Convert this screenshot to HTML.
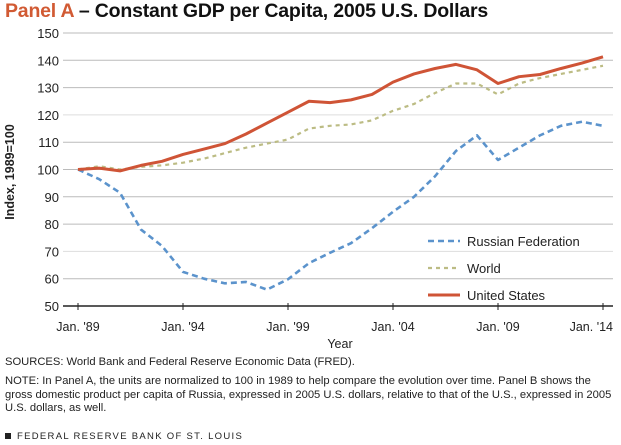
<!DOCTYPE html>
<html><head><meta charset="utf-8"><style>
body{margin:0;width:621px;height:445px;background:#fff;font-family:"Liberation Sans",sans-serif;overflow:hidden;position:relative}
.t{position:absolute;white-space:nowrap;color:#222}
</style></head><body>
<div class="t" style="left:5px;top:0px;font-size:19.5px;font-weight:bold;letter-spacing:-0.2px;color:#111"><span style="color:#d15a33">Panel A</span> – Constant GDP per Capita, 2005 U.S. Dollars</div>
<svg id="c" width="621" height="445" style="position:absolute;left:0;top:0"></svg>
<div class="t" style="left:5px;top:356px;font-size:11.2px">SOURCES: World Bank and Federal Reserve Economic Data (FRED).</div>
<div class="t" style="left:5px;top:375px;font-size:11.2px;line-height:13.5px;white-space:normal;width:615px">NOTE: In Panel A, the units are normalized to 100 in 1989 to help compare the evolution over time. Panel B shows the gross domestic product per capita of Russia, expressed in 2005 U.S. dollars, relative to that of the U.S., expressed in 2005 U.S. dollars, as well.</div>
<div class="t" style="left:5px;top:431px;font-size:9.5px;letter-spacing:1.3px"><span style="display:inline-block;width:6px;height:6px;background:#222;margin-right:6px"></span>FEDERAL RESERVE BANK OF ST. LOUIS</div>
<script>
const years=[1989,1990,1991,1992,1993,1994,1995,1996,1997,1998,1999,2000,2001,2002,2003,2004,2005,2006,2007,2008,2009,2010,2011,2012,2013,2014];
const russia=[100,96.5,91.5,78,72,62.5,60,58.3,58.8,56,59.8,65.7,69.5,73,78.5,84.5,90,97.5,106.8,112.5,103.5,108,112.5,116,117.5,116];
const world=[100,101.2,100,101,101.5,102.5,104,106,108,109.5,111,115,116,116.5,118,121.5,124,128,131.5,131.5,127.5,131.5,133.5,135,136.5,138];
const us=[100,100.5,99.5,101.5,103,105.5,107.5,109.5,113,117,121,125,124.5,125.5,127.5,132,135,137,138.5,136.5,131.5,134,134.8,137,139,141.3];
const yTicks=[50,60,70,80,90,100,110,120,130,140,150];
const xTickYears=[1989,1994,1999,2004,2009,2014];
const xTickLabels=["Jan. '89","Jan. '94","Jan. '99","Jan. '04","Jan. '09","Jan. '14"];
const NS="http://www.w3.org/2000/svg";
const svg=document.getElementById('c');
const X=y=>78+(y-1989)*21;
const Y=v=>306-(v-50)*2.73;
function mk(t,a){const e=document.createElementNS(NS,t);for(const k in a)e.setAttribute(k,a[k]);svg.appendChild(e);return e;}
yTicks.forEach(v=>{
 if(v>50){const g=mk('line',{x1:63,x2:613,y1:Y(v),y2:Y(v),stroke:(v==70||v==120)?'#ddd':'#bbb','stroke-width':1});
 
 }
 const t=mk('text',{x:59,y:Y(v)+5,'text-anchor':'end','font-size':13,fill:'#222','font-family':'Liberation Sans'});
 t.textContent=v;
 
 
});
const ax=mk('line',{x1:63,x2:613,y1:306,y2:306,stroke:'#222','stroke-width':1.5});


xTickYears.forEach((yr,i)=>{
 mk('line',{x1:X(yr),x2:X(yr),y1:303,y2:310,stroke:'#222','stroke-width':1});
 const last=i==xTickYears.length-1;
 const t=mk('text',{x:last?613:X(yr),y:331,'text-anchor':last?'end':'middle','font-size':12.5,fill:'#222','font-family':'Liberation Sans'});
 t.textContent=xTickLabels[i];
 
 
});
const xt=mk('text',{x:340,y:348,'text-anchor':'middle','font-size':12.5,fill:'#222','font-family':'Liberation Sans'});
xt.textContent='Year';


const yt=mk('text',{x:0,y:0,'text-anchor':'middle','font-size':12.5,'font-weight':'bold',fill:'#222','font-family':'Liberation Sans',transform:'translate(14,172) rotate(-90)'});
yt.textContent='Index, 1989=100';


function line(d,col,w,dash,name){
 const p=mk('polyline',{points:d.map((v,i)=>X(years[i])+','+Y(v)).join(' '),fill:'none',stroke:col,'stroke-width':w,'stroke-dasharray':dash,'stroke-linejoin':'round'});
 
 
}
line(world,'#bcbc84',2.2,'4,4','world-line');
line(russia,'#5b93cc',2.6,'6,4','russia-line');
line(us,'#cf5436',3,'none','us-line');
const leg=[['Russian Federation','#5b93cc','6,4',2.6],['World','#bcbc84','4,4',2.2],['United States','#cf5436','none',3]];
leg.forEach((l,i)=>{
 const y=241+i*27;
 const s=mk('line',{x1:428,x2:460,y1:y,y2:y,stroke:l[1],'stroke-width':l[3],'stroke-dasharray':l[2]});
 
 
 const t=mk('text',{x:467,y:y+5,'font-size':13,fill:'#222','font-family':'Liberation Sans'});
 t.textContent=l[0];
 
 
});
</script>
</body></html>
